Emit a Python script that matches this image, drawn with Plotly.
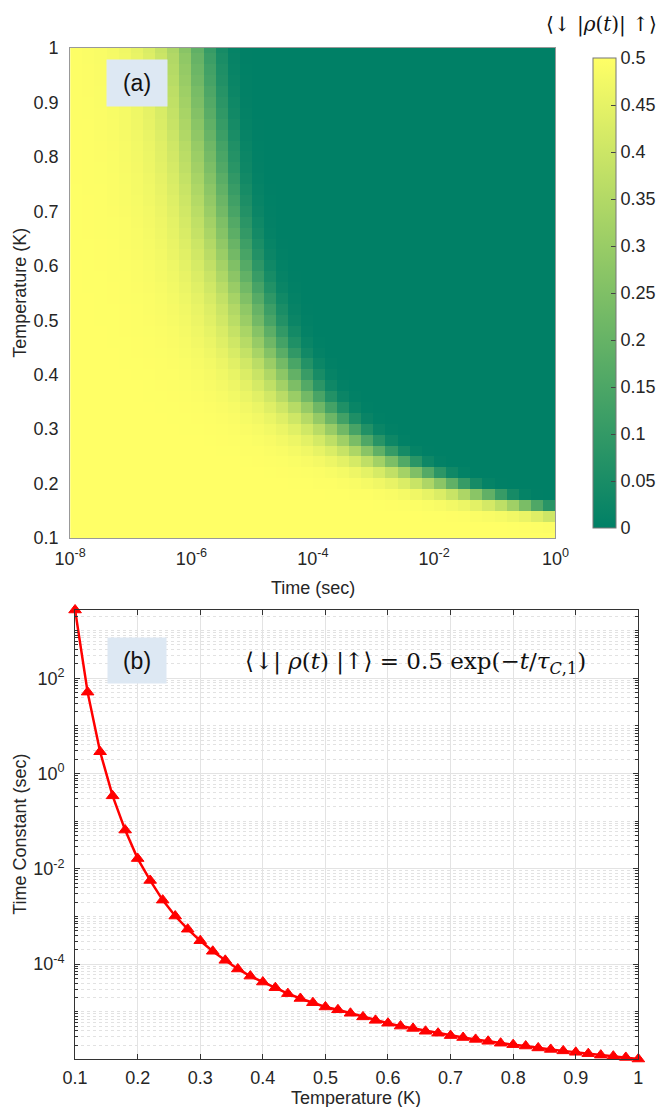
import numpy as np
import plotly.graph_objects as go

# temperatures (K) of the markers in panel (b), also the rows of panel (a)
temperature = [0.10, 0.12, 0.14, 0.16, 0.18, 0.20, 0.22, 0.24, 0.26, 0.28,
               0.30, 0.32, 0.34, 0.36, 0.38, 0.40, 0.42, 0.44, 0.46, 0.48,
               0.50, 0.52, 0.54, 0.56, 0.58, 0.60, 0.62, 0.64, 0.66, 0.68,
               0.70, 0.72, 0.74, 0.76, 0.78, 0.80, 0.82, 0.84, 0.86, 0.88,
               0.90, 0.92, 0.94, 0.96, 0.98, 1.00]

# time constant tau_C,1 (sec)
tau_sec = [2.7e3, 51, 2.86, 0.34, 0.065, 0.0164, 5.7e-3, 2.2e-3, 1.02e-3, 5.4e-4,
           3.1e-4, 1.86e-4, 1.2e-4, 7.9e-5, 5.6e-5, 4.2e-5, 3.2e-5, 2.4e-5, 1.9e-5, 1.55e-5,
           1.26e-5, 1.10e-5, 9.3e-6, 7.8e-6, 6.6e-6, 5.75e-6, 5.0e-6, 4.47e-6, 3.9e-6, 3.55e-6,
           3.16e-6, 2.88e-6, 2.63e-6, 2.40e-6, 2.19e-6, 2.04e-6, 1.91e-6, 1.74e-6, 1.62e-6, 1.51e-6,
           1.41e-6, 1.32e-6, 1.23e-6, 1.17e-6, 1.10e-6, 1.02e-6]

# time grid of panel (a): cell edges in log10(sec)
time_edges_log = np.linspace(-8, 0, 41)

time_ticks = [-8, -6, -4, -2, 0]
time_ticktext = ["10<sup>-8</sup>", "10<sup>-6</sup>", "10<sup>-4</sup>", "10<sup>-2</sup>", "10<sup>0</sup>"]
cbar_ticks = [0, 0.05, 0.1, 0.15, 0.2, 0.25, 0.3, 0.35, 0.4, 0.45, 0.5]
cbar_ticktext = ["0", "0.05", "0.1", "0.15", "0.2", "0.25", "0.3", "0.35", "0.4", "0.45", "0.5"]
tau_ticks = [1e-4, 1e-2, 1, 1e2]
tau_ticktext = ["10<sup>-4</sup>", "10<sup>-2</sup>", "10<sup>0</sup>", "10<sup>2</sup>"]

# coherence <down|rho(t)|up> = 0.5 exp(-t/tau), coloured at the left edge of each cell
t_left = 10 ** time_edges_log[:-1]
tau = np.array(tau_sec)
coherence = 0.5 * np.exp(-t_left[None, :] / tau[:, None])

W, H = 664, 1107
FONT = "Liberation Sans"
TXT = "#262626"
summer = [[0, "rgb(0,128,102)"], [1, "rgb(255,255,102)"]]

fig = go.Figure()

fig.add_trace(go.Heatmap(
    x=time_edges_log, y=temperature, z=coherence,
    colorscale=summer, zmin=0, zmax=0.5,
    xaxis="x", yaxis="y",
    colorbar=dict(x=583 / W, xanchor="left", y=1 - 285 / H, yanchor="middle",
                  thickness=23, thicknessmode="pixels", len=490, lenmode="pixels",
                  outlinecolor="#777", outlinewidth=1,
                  tickvals=cbar_ticks, ticktext=cbar_ticktext,
                  ticks="inside", ticklen=5, tickcolor="#444",
                  tickfont=dict(family=FONT, size=18, color=TXT)),
))

fig.add_trace(go.Scatter(
    x=temperature, y=tau_sec, xaxis="x2", yaxis="y2",
    mode="lines+markers",
    line=dict(color="#ff0000", width=2.5),
    marker=dict(symbol="triangle-up", size=11, color="#ff0000",
                line=dict(color="#ff0000", width=1)),
    cliponaxis=False, showlegend=False,
))

# minor grid positions for the log axis
minor_vals = [m * 10.0 ** k for k in range(-6, 4) for m in range(1, 10)]

tick_font = dict(family=FONT, size=18, color=TXT)
no_tick = "rgba(0,0,0,0)"

fig.update_layout(
    width=W, height=H,
    margin=dict(l=0, r=0, t=0, b=0),
    paper_bgcolor="white", plot_bgcolor="white",
    showlegend=False,
    xaxis=dict(domain=[63 / W, 555 / W], anchor="y", range=[-8, 0], automargin=False,
               tickvals=time_ticks, ticktext=time_ticktext, tickfont=tick_font,
               ticks="outside", ticklen=4, tickcolor=no_tick,
               showgrid=False, zeroline=False,
               showline=True, linecolor="#999", linewidth=1, mirror=True),
    yaxis=dict(domain=[1 - 530 / H, 1 - 40 / H], anchor="x", range=[0.1, 1], automargin=False,
               tick0=0.1, dtick=0.1, tickfont=tick_font,
               ticks="outside", ticklen=7, tickcolor=no_tick,
               showgrid=False, zeroline=False,
               showline=True, linecolor="#999", linewidth=1, mirror=True),
    xaxis2=dict(domain=[68 / W, 639 / W], anchor="y2", range=[0.1, 1], automargin=False,
                tick0=0.1, dtick=0.1, tickfont=tick_font, ticklabelstandoff=2,
                showgrid=True, gridcolor="#e3e3e3", gridwidth=1, zeroline=False,
                ticks="inside", ticklen=5, tickcolor="#333",
                showline=True, linecolor="#333", linewidth=1, mirror="ticks"),
    yaxis2=dict(domain=[1 - 1051 / H, 1 - 602 / H], anchor="x2", type="log", automargin=False,
                range=[np.log10(min(tau_sec)), np.log10(max(tau_sec))],
                tickvals=tau_ticks, ticktext=tau_ticktext, tickfont=tick_font,
                ticklabelstandoff=6,
                showgrid=True, gridcolor="#e3e3e3", gridwidth=1, zeroline=False,
                ticks="inside", ticklen=5, tickcolor="#333",
                minor=dict(tickvals=minor_vals, showgrid=True, gridcolor="#e2e2e2",
                           griddash="dot", gridwidth=1, ticks="inside", ticklen=3,
                           tickcolor="#333"),
                showline=True, linecolor="#333", linewidth=1, mirror="ticks"),
)

title_font = dict(family=FONT, size=18, color=TXT)
serif = dict(family="DejaVu Serif", size=23, color="#111")

annotations = [
    dict(text="(a)", x=131 / W, y=1 - 75 / H, width=58, height=44,
         bgcolor="#dde8f3", font=dict(family=FONT, size=23, color="#111")),
    dict(text="(b)", x=131 / W, y=1 - 652 / H, width=56, height=43,
         bgcolor="#dde8f3", font=dict(family=FONT, size=23, color="#111")),
    dict(text="⟨↓| <i>ρ</i>(<i>t</i>) |↑⟩ = 0.5 exp(−<i>t</i>/<i>τ</i><sub><i>C</i>,1</sub>)",
         x=413 / W, y=1 - 655 / H, font=serif),
    dict(text="⟨↓ |<i>ρ</i>(<i>t</i>)| ↑⟩", x=660 / W, y=1 - 16 / H, xanchor="right",
         font=dict(family="DejaVu Serif", size=20, color="#111")),
    dict(text="Time (sec)", x=309 / W, y=1 - 580 / H, font=title_font),
    dict(text="Temperature (K)", x=12 / W, y=1 - 285 / H, textangle=-90, font=title_font),
    dict(text="Time Constant (sec)", x=12 / W, y=1 - 826 / H, textangle=-90, font=title_font),
    dict(text="Temperature (K)", x=353 / W, y=1 - 1090 / H, font=title_font),
]
for a in annotations:
    a.update(xref="paper", yref="paper", showarrow=False)
    a.setdefault("xanchor", "center")
    a.setdefault("yanchor", "middle")
fig.update_layout(annotations=annotations)

fig.write_html("out.html")
